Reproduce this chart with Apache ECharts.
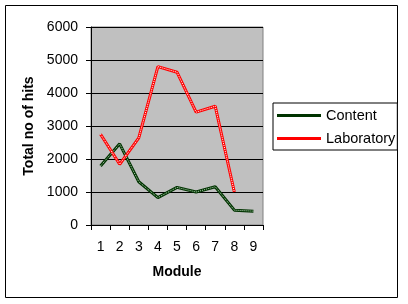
<!DOCTYPE html>
<html>
<head>
<meta charset="utf-8">
<script src="https://cdn.jsdelivr.net/npm/echarts@6/dist/echarts.min.js"></script>
<style>html,body{margin:0;padding:0;background:#fff}#c{width:408px;height:304px}</style>
</head>
<body>
<div id="c"></div>
<script>
const categories = ['1','2','3','4','5','6','7','8','9'];
const contentValues = [1790, 2460, 1310, 830, 1140, 1000, 1160, 450, 420];
const laboratoryValues = [2750, 1840, 2640, 4800, 4630, 3420, 3600, 1000, null];
const seriesNames = ['Content', 'Laboratory'];
const yTicks = {min: 0, max: 6000, interval: 1000};

const FONT = '"Liberation Sans", Arial, sans-serif';
const chart = echarts.init(document.getElementById('c'), null, {renderer: 'canvas'});
function mainSeries(name, data, color) {
  return {
    name: name, type: 'line', data: data, symbol: 'none', connectNulls: false,
    lineStyle: {color: color, width: 3}, itemStyle: {color: color}, z: 3, animation: false
  };
}
function dotSeries(name, data, color) {
  return {
    name: name + '_dots', type: 'line', data: data, symbol: 'none', silent: true,
    lineStyle: {color: color, width: 1, type: [1, 1]}, z: 4, animation: false
  };
}
chart.setOption({
  animation: false,
  graphic: [{
    type: 'rect', shape: {x: 5.5, y: 5.5, width: 392, height: 292},
    style: {fill: 'none', stroke: '#000', lineWidth: 1}, silent: true
  }],
  grid: {
    left: 91, right: 145, top: 27, bottom: 79,
    show: true, backgroundColor: '#C0C0C0', borderColor: '#808080', borderWidth: 1
  },
  legend: {
    data: seriesNames.map(n => ({name: n, icon: 'rect'})), orient: 'vertical', left: 273, top: 103,
    itemWidth: 44, itemHeight: 3, itemGap: 8,
    padding: [5, 2, 4, 4], borderColor: '#000', borderWidth: 1, backgroundColor: '#fff',
    textStyle: {fontFamily: FONT, fontSize: 14.5, color: '#000', lineHeight: 15}
  },
  xAxis: {
    type: 'category', data: categories, boundaryGap: true,
    name: 'Module', nameLocation: 'middle', nameGap: 40,
    nameTextStyle: {fontFamily: FONT, fontSize: 14, fontWeight: 'bold', color: '#000'},
    axisLine: {lineStyle: {color: '#000', width: 1}},
    axisTick: {show: true, length: 5, lineStyle: {color: '#000'}, alignWithLabel: false},
    axisLabel: {fontFamily: FONT, fontSize: 14, color: '#000', margin: 15},
    splitLine: {show: false}
  },
  yAxis: {
    type: 'value', min: yTicks.min, max: yTicks.max, interval: yTicks.interval,
    name: 'Total no of hits', nameLocation: 'middle', nameGap: 55,
    nameTextStyle: {fontFamily: FONT, fontSize: 14, fontWeight: 'bold', color: '#000'},
    axisLine: {show: true, lineStyle: {color: '#000', width: 1}},
    axisTick: {show: true, length: 5, lineStyle: {color: '#000'}},
    axisLabel: {fontFamily: FONT, fontSize: 14, color: '#000', margin: 13, formatter: v => String(v)},
    splitLine: {show: true, lineStyle: {color: '#000', width: 1}}
  },
  series: [
    mainSeries(seriesNames[0], contentValues, '#003300'),
    mainSeries(seriesNames[1], laboratoryValues, '#FF0000'),
    dotSeries(seriesNames[0], contentValues, '#b8d8b8'),
    dotSeries(seriesNames[1], laboratoryValues, '#ffffff')
  ]
});
</script>
</body>
</html>
